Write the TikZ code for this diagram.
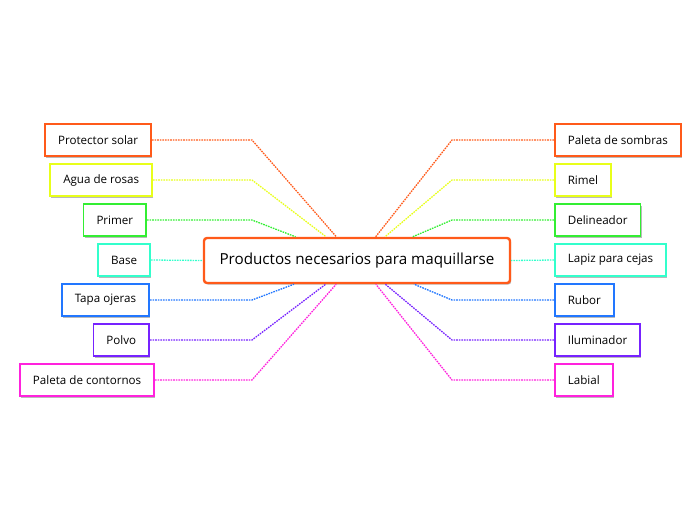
\documentclass[tikz,border=0pt]{standalone}
\usepackage{fontspec}
\setmainfont{Open Sans}
\usetikzlibrary{positioning, calc, shadows}

\definecolor{cOrange}{HTML}{FF5A1A}
\definecolor{cYellow}{HTML}{E8FF1A}
\definecolor{cGreen}{HTML}{33EE33}
\definecolor{cTeal}{HTML}{33FFCC}
\definecolor{cBlue}{HTML}{2277FF}
\definecolor{cPurple}{HTML}{7722FF}
\definecolor{cPink}{HTML}{FF22DD}

\begin{document}
\begin{tikzpicture}[
    x = 1pt, y = 1pt,
    topic/.style = {draw = cOrange, line width = 2.4pt, rounded corners = 3pt,
                    fill = white, minimum width = 306pt, minimum height = 45pt,
                    font = \fontsize{15.2}{18}\selectfont,
                    drop shadow = {shadow xshift = 1.2pt, shadow yshift = -1.6pt,
                                   fill = black!45, opacity = .6}},
    leaf/.style  = {draw = #1, line width = 1.6pt, fill = white,
                    inner xsep = 13pt, minimum height = 32pt,
                    font = \fontsize{11.6}{14}\selectfont,
                    drop shadow = {shadow xshift = 1.2pt, shadow yshift = -1.6pt,
                                   fill = black!45, opacity = .6}},
    link/.style  = {draw = #1, line width = 1.3pt,
                    dash pattern = on 1.6pt off 1pt},
  ]
    \useasboundingbox (0,0) rectangle (696,-520);

    %% -- Central topic ------------------------------------------------
    \node[topic] (C) at (357,-260.5) {Productos necesarios para maquillarse};

    %% -- Bend columns -------------------------------------------------
    \coordinate (BL) at (252,0);
    \coordinate (BR) at (452,0);

    %% -- Left branch --------------------------------------------------
    \node[leaf = cOrange, anchor = east] (L1) at (152,-140) {Protector solar};
    \node[leaf = cYellow, anchor = east] (L2) at (153,-180) {Agua de rosas};
    \node[leaf = cGreen,  anchor = east] (L3) at (147,-220) {Primer};
    \node[leaf = cTeal,   anchor = east] (L4) at (151,-260) {Base};
    \node[leaf = cBlue,   anchor = east] (L5) at (150,-300) {Tapa ojeras};
    \node[leaf = cPurple, anchor = east] (L6) at (150,-340) {Polvo};
    \node[leaf = cPink,   anchor = east] (L7) at (155,-380) {Paleta de contornos};

    %% -- Right branch -------------------------------------------------
    \node[leaf = cOrange, anchor = west] (R1) at (554,-140) {Paleta de sombras};
    \node[leaf = cYellow, anchor = west] (R2) at (554,-180) {Rimel};
    \node[leaf = cGreen,  anchor = west] (R3) at (554,-220) {Delineador};
    \node[leaf = cTeal,   anchor = west] (R4) at (554,-260) {Lapiz para cejas};
    \node[leaf = cBlue,   anchor = west] (R5) at (554,-300) {Rubor};
    \node[leaf = cPurple, anchor = west] (R6) at (554,-340) {Iluminador};
    \node[leaf = cPink,   anchor = west] (R7) at (554,-380) {Labial};

    %% -- Left connectors ----------------------------------------------
    \draw[link = cOrange] (L1.east) -- (BL |- L1.east) -- (C);
    \draw[link = cYellow] (L2.east) -- (BL |- L2.east) -- (C);
    \draw[link = cGreen]  (L3.east) -- (BL |- L3.east) -- (C);
    \draw[link = cTeal]   (L4.east) -- (C.west);
    \draw[link = cBlue]   (L5.east) -- (BL |- L5.east) -- (C);
    \draw[link = cPurple] (L6.east) -- (BL |- L6.east) -- (C);
    \draw[link = cPink]   (L7.east) -- (BL |- L7.east) -- (C);

    %% -- Right connectors ---------------------------------------------
    \draw[link = cOrange] (R1.west) -- (BR |- R1.west) -- (C);
    \draw[link = cYellow] (R2.west) -- (BR |- R2.west) -- (C);
    \draw[link = cGreen]  (R3.west) -- (BR |- R3.west) -- (C);
    \draw[link = cTeal]   (R4.west) -- (C.east);
    \draw[link = cBlue]   (R5.west) -- (BR |- R5.west) -- (C);
    \draw[link = cPurple] (R6.west) -- (BR |- R6.west) -- (C);
    \draw[link = cPink]   (R7.west) -- (BR |- R7.west) -- (C);
  \end{tikzpicture}
\end{document}
